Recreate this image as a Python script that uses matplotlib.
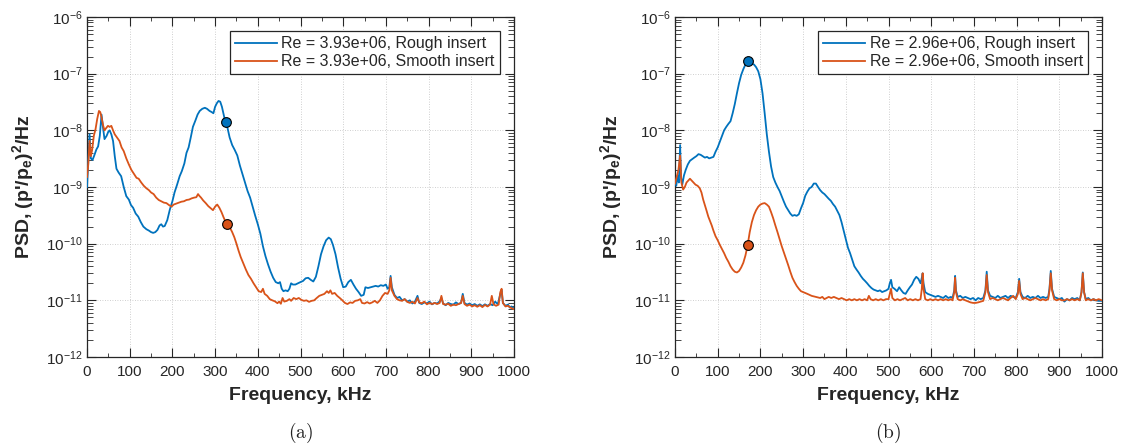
import numpy as np
import matplotlib
matplotlib.use("Agg")
import matplotlib.pyplot as plt
from matplotlib.ticker import LogLocator, MultipleLocator, LogFormatterSciNotation

plt.rcParams['font.family'] = ['Liberation Sans', 'DejaVu Sans']
plt.rcParams['mathtext.fontset'] = 'custom'
plt.rcParams['mathtext.rm'] = 'Liberation Sans'
plt.rcParams['mathtext.it'] = 'Liberation Sans:italic'
plt.rcParams['mathtext.bf'] = 'Liberation Sans:bold'
plt.rcParams['axes.unicode_minus'] = False

# ---------------- data (a) ----------------
a_rough_f = [0, 3, 6, 9, 13, 17, 22, 26, 30, 34, 37, 41, 46, 50, 53, 57, 61, 65, 69, 74, 80, 86, 92, 98,
             103, 108, 114, 120, 126, 132, 139, 145, 150, 155, 160, 165, 170, 174, 178, 182, 188, 194,
             200, 205, 211, 217, 222, 228, 233, 238, 243, 248, 254, 259, 264, 270, 276, 281, 287, 292,
             296, 300, 304, 308, 312, 316, 320, 324, 328, 334, 340, 346, 352, 358, 364, 370, 376, 382,
             388, 394, 400, 406, 412, 418, 424, 430, 436, 442, 448, 452, 456, 460, 465, 470, 474, 478,
             482, 488, 494, 500, 506, 512, 518, 524, 530, 536, 542, 548, 554, 560, 566, 571, 576, 582,
             588, 594, 600, 606, 612, 618, 624, 630, 636, 642, 648, 652, 658, 664, 670, 676, 682, 688,
             694, 700, 704, 708, 711, 714, 720, 726, 732, 738, 744, 750, 756, 762, 768, 774, 778, 784,
             790, 796, 802, 808, 814, 820, 826, 830, 834, 840, 846, 852, 858, 864, 870, 876, 880, 884,
             890, 896, 902, 908, 914, 920, 926, 932, 938, 944, 950, 956, 962, 968, 971, 974, 980, 986,
             990, 994, 1000]
a_rough_p = [1.0e-9, 2.8e-9, 8.5e-9, 3.2e-9, 3.0e-9, 3.6e-9, 4.6e-9, 5.2e-9, 8e-9, 1.9e-8, 1.2e-8,
             7.0e-9, 8e-9, 9.5e-9, 1.0e-8, 8.5e-9, 6.5e-9, 3.5e-9, 2.1e-9, 1.8e-9, 1.55e-9, 1.0e-9,
             6.9e-10, 6.0e-10, 4.8e-10, 4.3e-10, 3.4e-10, 3.0e-10, 2.4e-10, 2.0e-10, 1.8e-10, 1.7e-10,
             1.6e-10, 1.55e-10, 1.6e-10, 1.75e-10, 2.1e-10, 2.2e-10, 2.0e-10, 2.05e-10, 2.6e-10, 4.0e-10,
             5.6e-10, 8.0e-10, 1.1e-9, 1.55e-9, 1.9e-9, 2.6e-9, 4.0e-9, 5.0e-9, 7.5e-9, 1.15e-8, 1.5e-8,
             1.9e-8, 2.2e-8, 2.4e-8, 2.5e-8, 2.4e-8, 2.2e-8, 2.1e-8, 2.0e-8, 2.6e-8, 3.0e-8, 3.3e-8,
             3.2e-8, 2.6e-8, 1.9e-8, 1.4e-8, 1.2e-8, 7.5e-9, 5.5e-9, 4.5e-9, 3.6e-9, 2.4e-9, 1.7e-9,
             1.2e-9, 8.5e-10, 6.5e-10, 4.5e-10, 3.1e-10, 2.2e-10, 1.5e-10, 9.0e-11, 6.0e-11, 4.3e-11,
             3.2e-11, 2.5e-11, 2.1e-11, 2.0e-11, 2.1e-11, 1.6e-11, 1.45e-11, 1.5e-11, 1.45e-11, 1.6e-11,
             2.0e-11, 1.9e-11, 1.9e-11, 2.0e-11, 2.1e-11, 2.2e-11, 2.45e-11, 2.5e-11, 2.3e-11, 2.15e-11,
             2.6e-11, 4.0e-11, 6.5e-11, 9.0e-11, 1.15e-10, 1.28e-10, 1.2e-10, 9.5e-11, 6.5e-11, 3.8e-11,
             2.4e-11, 1.7e-11, 1.75e-11, 2.1e-11, 2.3e-11, 1.9e-11, 1.6e-11, 1.4e-11, 1.2e-11, 1.25e-11,
             1.7e-11, 1.65e-11, 1.7e-11, 1.75e-11, 1.8e-11, 1.75e-11, 1.85e-11, 1.8e-11, 1.9e-11, 1.6e-11,
             1.7e-11, 2.7e-11, 1.7e-11, 1.25e-11, 1.1e-11, 1.15e-11, 1.0e-11, 1.05e-11, 9.5e-12, 1.0e-11,
             8.8e-12, 9.5e-12, 1.2e-11, 9.0e-12, 8.6e-12, 9.2e-12, 8.8e-12, 9.5e-12, 8.5e-12, 9.0e-12,
             8.8e-12, 9.6e-12, 1.1e-11, 8.8e-12, 8.2e-12, 9.0e-12, 8.6e-12, 8.4e-12, 9.2e-12, 8.6e-12,
             9.0e-12, 1.3e-11, 9.0e-12, 8.4e-12, 8.8e-12, 8.2e-12, 8.6e-12, 8.0e-12, 8.5e-12, 7.9e-12,
             8.5e-12, 8.0e-12, 8.6e-12, 8.2e-12, 9.5e-12, 8.5e-12, 1.3e-11, 1.5e-11, 9.0e-12, 8.0e-12,
             8.4e-12, 7.5e-12, 7.8e-12, 7.2e-12]

a_smooth_f = [0, 3, 6, 9, 12, 16, 20, 24, 28, 31, 34, 38, 41, 45, 49, 53, 57, 61, 65, 70, 76, 81, 86, 92,
              98, 104, 110, 116, 121, 127, 133, 139, 145, 150, 156, 162, 168, 174, 180, 186, 192, 198,
              203, 209, 215, 221, 227, 233, 239, 245, 251, 256, 260, 263, 267, 272, 278, 284, 290, 295,
              300, 305, 310, 315, 320, 325, 330, 335, 340, 345, 350, 355, 360, 366, 372, 378, 384, 390,
              396, 402, 408, 412, 416, 422, 428, 434, 440, 446, 450, 454, 458, 462, 468, 474, 478, 484,
              490, 496, 502, 508, 514, 520, 526, 532, 538, 544, 550, 556, 562, 566, 570, 574, 580, 586,
              592, 598, 604, 610, 616, 622, 628, 634, 640, 644, 650, 656, 662, 668, 674, 680, 686, 692,
              698, 704, 708, 711, 714, 720, 726, 732, 738, 744, 750, 756, 762, 768, 774, 778, 784, 790,
              796, 802, 808, 814, 820, 826, 830, 834, 840, 846, 852, 858, 864, 870, 876, 880, 884, 890,
              896, 902, 908, 914, 920, 926, 932, 938, 944, 948, 952, 958, 964, 968, 971, 974, 980, 986,
              992, 1000]
a_smooth_p = [1.5e-9, 2.5e-9, 6.5e-9, 3.5e-9, 4.5e-9, 8.0e-9, 1.05e-8, 1.6e-8, 2.2e-8, 2.1e-8, 1.7e-8,
              1.2e-8, 1.0e-8, 1.1e-8, 1.2e-8, 1.15e-8, 1.2e-8, 1.0e-8, 8.5e-9, 7.5e-9, 6.5e-9, 5.0e-9,
              4.3e-9, 3.2e-9, 2.5e-9, 2.0e-9, 1.7e-9, 1.45e-9, 1.4e-9, 1.2e-9, 1.05e-9, 9.5e-10, 8.8e-10,
              8.0e-10, 7.5e-10, 6.5e-10, 5.9e-10, 5.6e-10, 5.3e-10, 5.2e-10, 4.8e-10, 4.5e-10, 4.9e-10,
              5.1e-10, 5.3e-10, 5.5e-10, 5.6e-10, 5.9e-10, 6.0e-10, 6.3e-10, 6.5e-10, 6.6e-10, 7.5e-10,
              7.0e-10, 6.5e-10, 5.8e-10, 5.2e-10, 4.6e-10, 4.2e-10, 3.9e-10, 4.5e-10, 4.9e-10, 4.3e-10,
              3.6e-10, 2.9e-10, 2.4e-10, 2.1e-10, 1.9e-10, 1.6e-10, 1.3e-10, 1.0e-10, 7.5e-11, 5.8e-11,
              4.5e-11, 3.5e-11, 2.8e-11, 2.4e-11, 2.0e-11, 1.7e-11, 1.45e-11, 1.4e-11, 1.6e-11, 1.3e-11,
              1.2e-11, 1.05e-11, 1.0e-11, 9.6e-12, 8.9e-12, 9.5e-12, 8.7e-12, 1.1e-11, 9.5e-12, 9.8e-12,
              1.05e-11, 9.8e-12, 1.1e-11, 1.05e-11, 1.1e-11, 1.02e-11, 9.8e-12, 1.0e-11, 9.4e-12, 9.8e-12,
              1.0e-11, 1.1e-11, 1.2e-11, 1.25e-11, 1.3e-11, 1.45e-11, 1.35e-11, 1.5e-11, 1.3e-11, 1.35e-11,
              1.2e-11, 1.1e-11, 1.0e-11, 9.0e-12, 8.6e-12, 9.2e-12, 9.0e-12, 9.8e-12, 1.0e-11, 1.05e-11,
              9.0e-12, 8.8e-12, 9.3e-12, 8.8e-12, 9.2e-12, 9.8e-12, 9.0e-12, 1.0e-11, 1.2e-11, 1.35e-11,
              1.3e-11, 1.5e-11, 2.5e-11, 1.5e-11, 1.2e-11, 1.05e-11, 1.0e-11, 9.8e-12, 1.05e-11, 9.4e-12,
              9.0e-12, 9.4e-12, 8.8e-12, 1.1e-11, 9.2e-12, 8.9e-12, 9.5e-12, 8.5e-12, 9.0e-12, 8.6e-12,
              9.0e-12, 8.6e-12, 9.0e-12, 1.2e-11, 8.6e-12, 8.4e-12, 8.7e-12, 8.0e-12, 8.4e-12, 8.2e-12,
              8.6e-12, 9.0e-12, 1.2e-11, 8.6e-12, 8.0e-12, 8.4e-12, 7.8e-12, 8.2e-12, 7.7e-12, 8.2e-12,
              7.6e-12, 8.3e-12, 7.8e-12, 8.4e-12, 1.2e-11, 8.5e-12, 8.0e-12, 8.4e-12, 1.4e-11, 1.6e-11,
              9.0e-12, 7.8e-12, 8.0e-12, 7.4e-12, 7.0e-12]

# ---------------- data (b) ----------------
b_rough_f = [0, 3, 6, 9, 12, 14, 17, 21, 25, 30, 35, 40, 45, 50, 55, 60, 65, 70, 75, 80, 85, 90, 95, 100,
             105, 110, 115, 120, 125, 130, 135, 140, 145, 150, 155, 160, 165, 170, 175, 180, 185, 190,
             195, 200, 205, 210, 215, 220, 225, 230, 235, 240, 245, 250, 255, 260, 265, 270, 275, 280,
             285, 290, 295, 300, 305, 310, 315, 320, 325, 330, 335, 340, 345, 350, 355, 360, 365, 370,
             375, 380, 385, 390, 395, 400, 405, 410, 415, 420, 425, 430, 435, 440, 445, 450, 455, 460,
             465, 470, 475, 480, 485, 490, 495, 500, 503, 506, 509, 514, 520, 525, 530, 535, 540, 545,
             550, 555, 560, 565, 570, 575, 578, 580, 582, 586, 592, 598, 604, 610, 616, 622, 628, 634,
             640, 646, 650, 654, 656, 658, 662, 668, 674, 680, 686, 692, 698, 704, 710, 716, 722, 727,
             730, 733, 738, 744, 750, 756, 762, 768, 774, 780, 786, 792, 798, 803, 806, 809, 814, 820,
             826, 832, 838, 844, 850, 856, 862, 868, 874, 877, 880, 883, 888, 894, 900, 906, 912, 918,
             924, 930, 936, 942, 948, 952, 955, 958, 962, 968, 974, 980, 986, 992, 1000]
b_rough_p = [1.3e-9, 1.05e-9, 1.6e-9, 1.2e-9, 5.5e-9, 1.5e-9, 1.1e-9, 1.6e-9, 2.0e-9, 2.5e-9, 2.9e-9,
             3.1e-9, 3.3e-9, 3.5e-9, 3.8e-9, 3.7e-9, 3.5e-9, 3.3e-9, 3.4e-9, 3.2e-9, 3.3e-9, 3.4e-9,
             4.2e-9, 5.0e-9, 6.3e-9, 8.0e-9, 1.0e-8, 1.15e-8, 1.3e-8, 1.45e-8, 2.0e-8, 2.9e-8, 4.5e-8,
             6.8e-8, 9.5e-8, 1.2e-7, 1.45e-7, 1.6e-7, 1.55e-7, 1.5e-7, 1.45e-7, 1.3e-7, 1.1e-7, 8.0e-8,
             4.5e-8, 2.0e-8, 8.5e-9, 4.2e-9, 2.3e-9, 1.5e-9, 1.2e-9, 1.0e-9, 8.5e-10, 6.8e-10, 5.5e-10,
             4.5e-10, 3.9e-10, 3.4e-10, 3.1e-10, 3.2e-10, 3.1e-10, 3.3e-10, 4.2e-10, 5.2e-10, 7.0e-10,
             8.3e-10, 9.5e-10, 1.0e-9, 1.15e-9, 1.15e-9, 1.0e-9, 8.8e-10, 8.0e-10, 7.5e-10, 6.8e-10,
             6.2e-10, 5.7e-10, 5.0e-10, 4.5e-10, 3.8e-10, 3.2e-10, 2.4e-10, 1.7e-10, 1.2e-10, 8.5e-11,
             6.8e-11, 5.2e-11, 4.0e-11, 3.5e-11, 3.1e-11, 2.7e-11, 2.4e-11, 2.2e-11, 2.0e-11, 1.8e-11,
             1.65e-11, 1.55e-11, 1.5e-11, 1.45e-11, 1.5e-11, 1.4e-11, 1.45e-11, 1.5e-11, 1.6e-11, 2.0e-11,
             2.3e-11, 1.7e-11, 1.6e-11, 1.45e-11, 1.7e-11, 1.5e-11, 1.35e-11, 1.3e-11, 1.5e-11, 1.7e-11,
             1.9e-11, 2.3e-11, 2.6e-11, 2.4e-11, 2.0e-11, 2.5e-11, 3.0e-11, 2.0e-11, 1.4e-11, 1.3e-11,
             1.25e-11, 1.2e-11, 1.15e-11, 1.2e-11, 1.15e-11, 1.1e-11, 1.2e-11, 1.1e-11, 1.15e-11, 1.1e-11,
             1.5e-11, 2.7e-11, 1.5e-11, 1.15e-11, 1.2e-11, 1.1e-11, 1.15e-11, 1.1e-11, 1.05e-11, 1.1e-11,
             1.0e-11, 1.1e-11, 1.05e-11, 1.1e-11, 1.5e-11, 3.2e-11, 1.5e-11, 1.2e-11, 1.15e-11, 1.1e-11,
             1.2e-11, 1.1e-11, 1.15e-11, 1.2e-11, 1.1e-11, 1.2e-11, 1.15e-11, 1.1e-11, 1.4e-11, 2.4e-11,
             1.4e-11, 1.15e-11, 1.1e-11, 1.2e-11, 1.1e-11, 1.15e-11, 1.1e-11, 1.2e-11, 1.1e-11, 1.15e-11,
             1.1e-11, 1.15e-11, 1.6e-11, 3.3e-11, 1.6e-11, 1.15e-11, 1.1e-11, 1.05e-11, 1.1e-11, 9.5e-12,
             1.05e-11, 1.0e-11, 1.1e-11, 1.05e-11, 1.1e-11, 1.0e-11, 1.4e-11, 3.1e-11, 1.4e-11, 1.05e-11,
             1.1e-11, 1.0e-11, 1.05e-11, 1.0e-11, 9.8e-12, 9.8e-12]

b_smooth_f = [0, 4, 8, 12, 15, 19, 23, 27, 31, 35, 39, 43, 48, 53, 58, 62, 66, 70, 74, 78, 82, 86, 90, 95,
              100, 105, 110, 115, 120, 125, 130, 135, 140, 145, 150, 155, 160, 165, 170, 175, 180, 185,
              190, 195, 200, 205, 210, 215, 220, 225, 230, 235, 240, 245, 250, 255, 260, 265, 270, 275,
              280, 285, 290, 295, 300, 305, 310, 315, 320, 330, 340, 345, 350, 355, 360, 366, 372, 378,
              384, 390, 396, 402, 408, 414, 420, 426, 432, 438, 444, 450, 454, 458, 464, 470, 476, 482,
              488, 494, 500, 503, 506, 509, 515, 521, 527, 533, 539, 545, 551, 557, 563, 569, 575, 578,
              580, 582, 586, 592, 598, 604, 610, 616, 622, 628, 634, 640, 646, 650, 654, 656, 658, 662,
              668, 674, 680, 686, 692, 698, 704, 710, 716, 722, 727, 730, 733, 738, 744, 750, 756, 762,
              768, 774, 780, 786, 792, 798, 803, 806, 809, 814, 820, 826, 832, 838, 844, 850, 856, 862,
              868, 874, 877, 880, 883, 888, 894, 900, 906, 912, 918, 924, 930, 936, 942, 948, 952, 955,
              958, 962, 968, 974, 980, 986, 992, 1000]
b_smooth_p = [1.15e-9, 1.5e-9, 2.0e-9, 3.6e-9, 1.2e-9, 9.0e-10, 1.0e-9, 1.2e-9, 1.3e-9, 1.4e-9, 1.3e-9,
              1.2e-9, 1.1e-9, 1.05e-9, 9.5e-10, 8.0e-10, 6.0e-10, 4.8e-10, 3.8e-10, 3.0e-10, 2.5e-10,
              2.1e-10, 1.7e-10, 1.35e-10, 1.15e-10, 9.5e-11, 8.0e-11, 6.8e-11, 5.6e-11, 4.8e-11, 4.0e-11,
              3.5e-11, 3.2e-11, 3.1e-11, 3.3e-11, 3.8e-11, 4.6e-11, 6.2e-11, 9.3e-11, 1.6e-10, 2.4e-10,
              3.2e-10, 3.9e-10, 4.5e-10, 4.9e-10, 5.1e-10, 5.2e-10, 4.9e-10, 4.5e-10, 3.6e-10, 2.8e-10,
              2.1e-10, 1.6e-10, 1.2e-10, 9.0e-11, 7.0e-11, 5.5e-11, 4.2e-11, 3.2e-11, 2.5e-11, 2.1e-11,
              1.8e-11, 1.6e-11, 1.45e-11, 1.4e-11, 1.35e-11, 1.3e-11, 1.25e-11, 1.2e-11, 1.15e-11, 1.1e-11,
              1.15e-11, 1.05e-11, 1.1e-11, 1.15e-11, 1.1e-11, 1.15e-11, 1.1e-11, 1.05e-11, 1.1e-11, 1.05e-11,
              1.0e-11, 1.05e-11, 1.0e-11, 1.05e-11, 1.0e-11, 1.05e-11, 1.0e-11, 1.05e-11, 1.0e-11, 1.2e-11,
              1.05e-11, 1.0e-11, 1.05e-11, 1.0e-11, 1.05e-11, 1.0e-11, 1.05e-11, 1.05e-11, 1.3e-11, 1.6e-11,
              1.1e-11, 1.0e-11, 1.05e-11, 1.0e-11, 1.05e-11, 1.1e-11, 1.0e-11, 1.05e-11, 1.0e-11, 1.05e-11,
              1.0e-11, 1.05e-11, 1.6e-11, 3.0e-11, 1.6e-11, 1.05e-11, 1.0e-11, 1.05e-11, 1.0e-11, 1.05e-11,
              1.0e-11, 1.05e-11, 1.0e-11, 1.05e-11, 1.0e-11, 1.05e-11, 1.0e-11, 1.4e-11, 2.5e-11, 1.4e-11,
              1.05e-11, 1.0e-11, 1.05e-11, 1.0e-11, 9.6e-12, 9.2e-12, 9.0e-12, 9.0e-12, 9.2e-12, 9.5e-12,
              9.8e-12, 1.4e-11, 2.8e-11, 1.4e-11, 1.05e-11, 1.1e-11, 1.05e-11, 1.0e-11, 1.05e-11, 1.1e-11,
              1.05e-11, 1.0e-11, 1.1e-11, 1.2e-11, 1.05e-11, 1.3e-11, 2.2e-11, 1.3e-11, 1.05e-11, 1.1e-11,
              1.05e-11, 1.0e-11, 1.05e-11, 1.1e-11, 1.05e-11, 1.0e-11, 1.05e-11, 1.0e-11, 1.05e-11, 1.5e-11,
              3.0e-11, 1.5e-11, 1.05e-11, 1.0e-11, 1.05e-11, 1.0e-11, 1.0e-11, 1.05e-11, 1.0e-11, 1.05e-11,
              1.0e-11, 1.05e-11, 1.0e-11, 1.4e-11, 3.0e-11, 1.4e-11, 1.0e-11, 1.05e-11, 1.0e-11, 1.05e-11,
              1.0e-11, 1.05e-11, 1.0e-11]

# highlighted points (frequency, PSD)
a_marks_f = [326, 328]
a_marks_p = [1.4e-8, 2.2e-10]
b_marks_f = [170, 170]
b_marks_p = [1.65e-7, 9.5e-11]

a_labels = ["Re = 3.93e+06, Rough insert", "Re = 3.93e+06, Smooth insert"]
b_labels = ["Re = 2.96e+06, Rough insert", "Re = 2.96e+06, Smooth insert"]
panel_tags = ["(a)", "(b)"]

BLUE = "#0072BD"
ORANGE = "#D95319"
AXC = "#262626"

W, H = 1123, 446
fig = plt.figure(figsize=(W / 100, H / 100), dpi=100)
AX_H = 340.0

def px_axes(x0, x1, y0, y1):
    return fig.add_axes([x0 / W, 1 - y1 / H, (x1 - x0) / W, (y1 - y0) / H])

panels = [
    (px_axes(87, 514, 17, 357), a_rough_f, a_rough_p, a_smooth_f, a_smooth_p, a_marks_f, a_marks_p, a_labels),
    (px_axes(675, 1102, 17, 357), b_rough_f, b_rough_p, b_smooth_f, b_smooth_p, b_marks_f, b_marks_p, b_labels),
]

for i, (ax, rf, rp, sf, sp, mf, mp, labs) in enumerate(panels):
    ax.plot(rf, rp, color=BLUE, lw=1.3, label=labs[0], zorder=3)
    ax.plot(sf, sp, color=ORANGE, lw=1.3, label=labs[1], zorder=3)
    ax.plot([mf[0]], [mp[0]], 'o', ms=7, mfc=BLUE, mec='k', mew=0.8, zorder=4)
    ax.plot([mf[1]], [mp[1]], 'o', ms=7, mfc=ORANGE, mec='k', mew=0.8, zorder=4)

    ax.set_yscale('log')
    ax.set_xlim(0, 1000)
    ax.set_ylim(1e-12, 1e-6)
    ax.xaxis.set_major_locator(MultipleLocator(100))
    ax.xaxis.set_minor_locator(MultipleLocator(50))
    ax.yaxis.set_major_locator(LogLocator(base=10, numticks=10))
    ax.yaxis.set_minor_locator(LogLocator(base=10, subs=np.arange(2, 10), numticks=20))
    ax.yaxis.set_major_formatter(LogFormatterSciNotation())

    ax.grid(True, which='major', linestyle=(0, (1, 2)), color='#b0b0b0', lw=0.6, alpha=0.8)
    ax.tick_params(which='both', direction='in', top=True, right=True, colors=AXC, labelsize=11)
    ax.tick_params(axis='x', which='major', length=6.5, pad=6)
    ax.tick_params(axis='x', which='minor', length=3.2)
    ax.tick_params(axis='y', which='major', length=6.5, pad=3)
    ax.tick_params(axis='y', which='minor', length=4.5)
    for sp_ in ax.spines.values():
        sp_.set_color(AXC)
        sp_.set_linewidth(0.9)
    for lbl in ax.get_xticklabels() + ax.get_yticklabels():
        lbl.set_color(AXC)

    ax.set_xlabel("Frequency, kHz", fontsize=14, fontweight='bold', color=AXC)
    ax.xaxis.set_label_coords(0.5, -(396 - 357) / AX_H)
    ax.xaxis.label.set_verticalalignment('center')
    ax.set_ylabel(r"PSD, (p'/p$_\mathbf{e}$)$^\mathbf{2}$/Hz", fontsize=14, fontweight='bold', color=AXC)
    ax.yaxis.set_label_coords(-64 / 427.0, 0.5)
    ax.yaxis.label.set_verticalalignment('center')

    leg = ax.legend(loc='upper right', fontsize=11.5, frameon=True, fancybox=False, framealpha=1,
                    edgecolor=AXC, handlelength=2.6, handletextpad=0.3, borderpad=0.3,
                    labelspacing=0.2, borderaxespad=0.9)
    leg.get_frame().set_linewidth(0.9)
    for t in leg.get_texts():
        t.set_color(AXC)

    ax.text(0.5, -(433 - 357) / AX_H, r"$\mathrm{" + panel_tags[i] + "}$",
            transform=ax.transAxes, ha='center', va='center', fontsize=14, math_fontfamily='cm',
            color='#222222')

fig.savefig("out.png", dpi=100)
